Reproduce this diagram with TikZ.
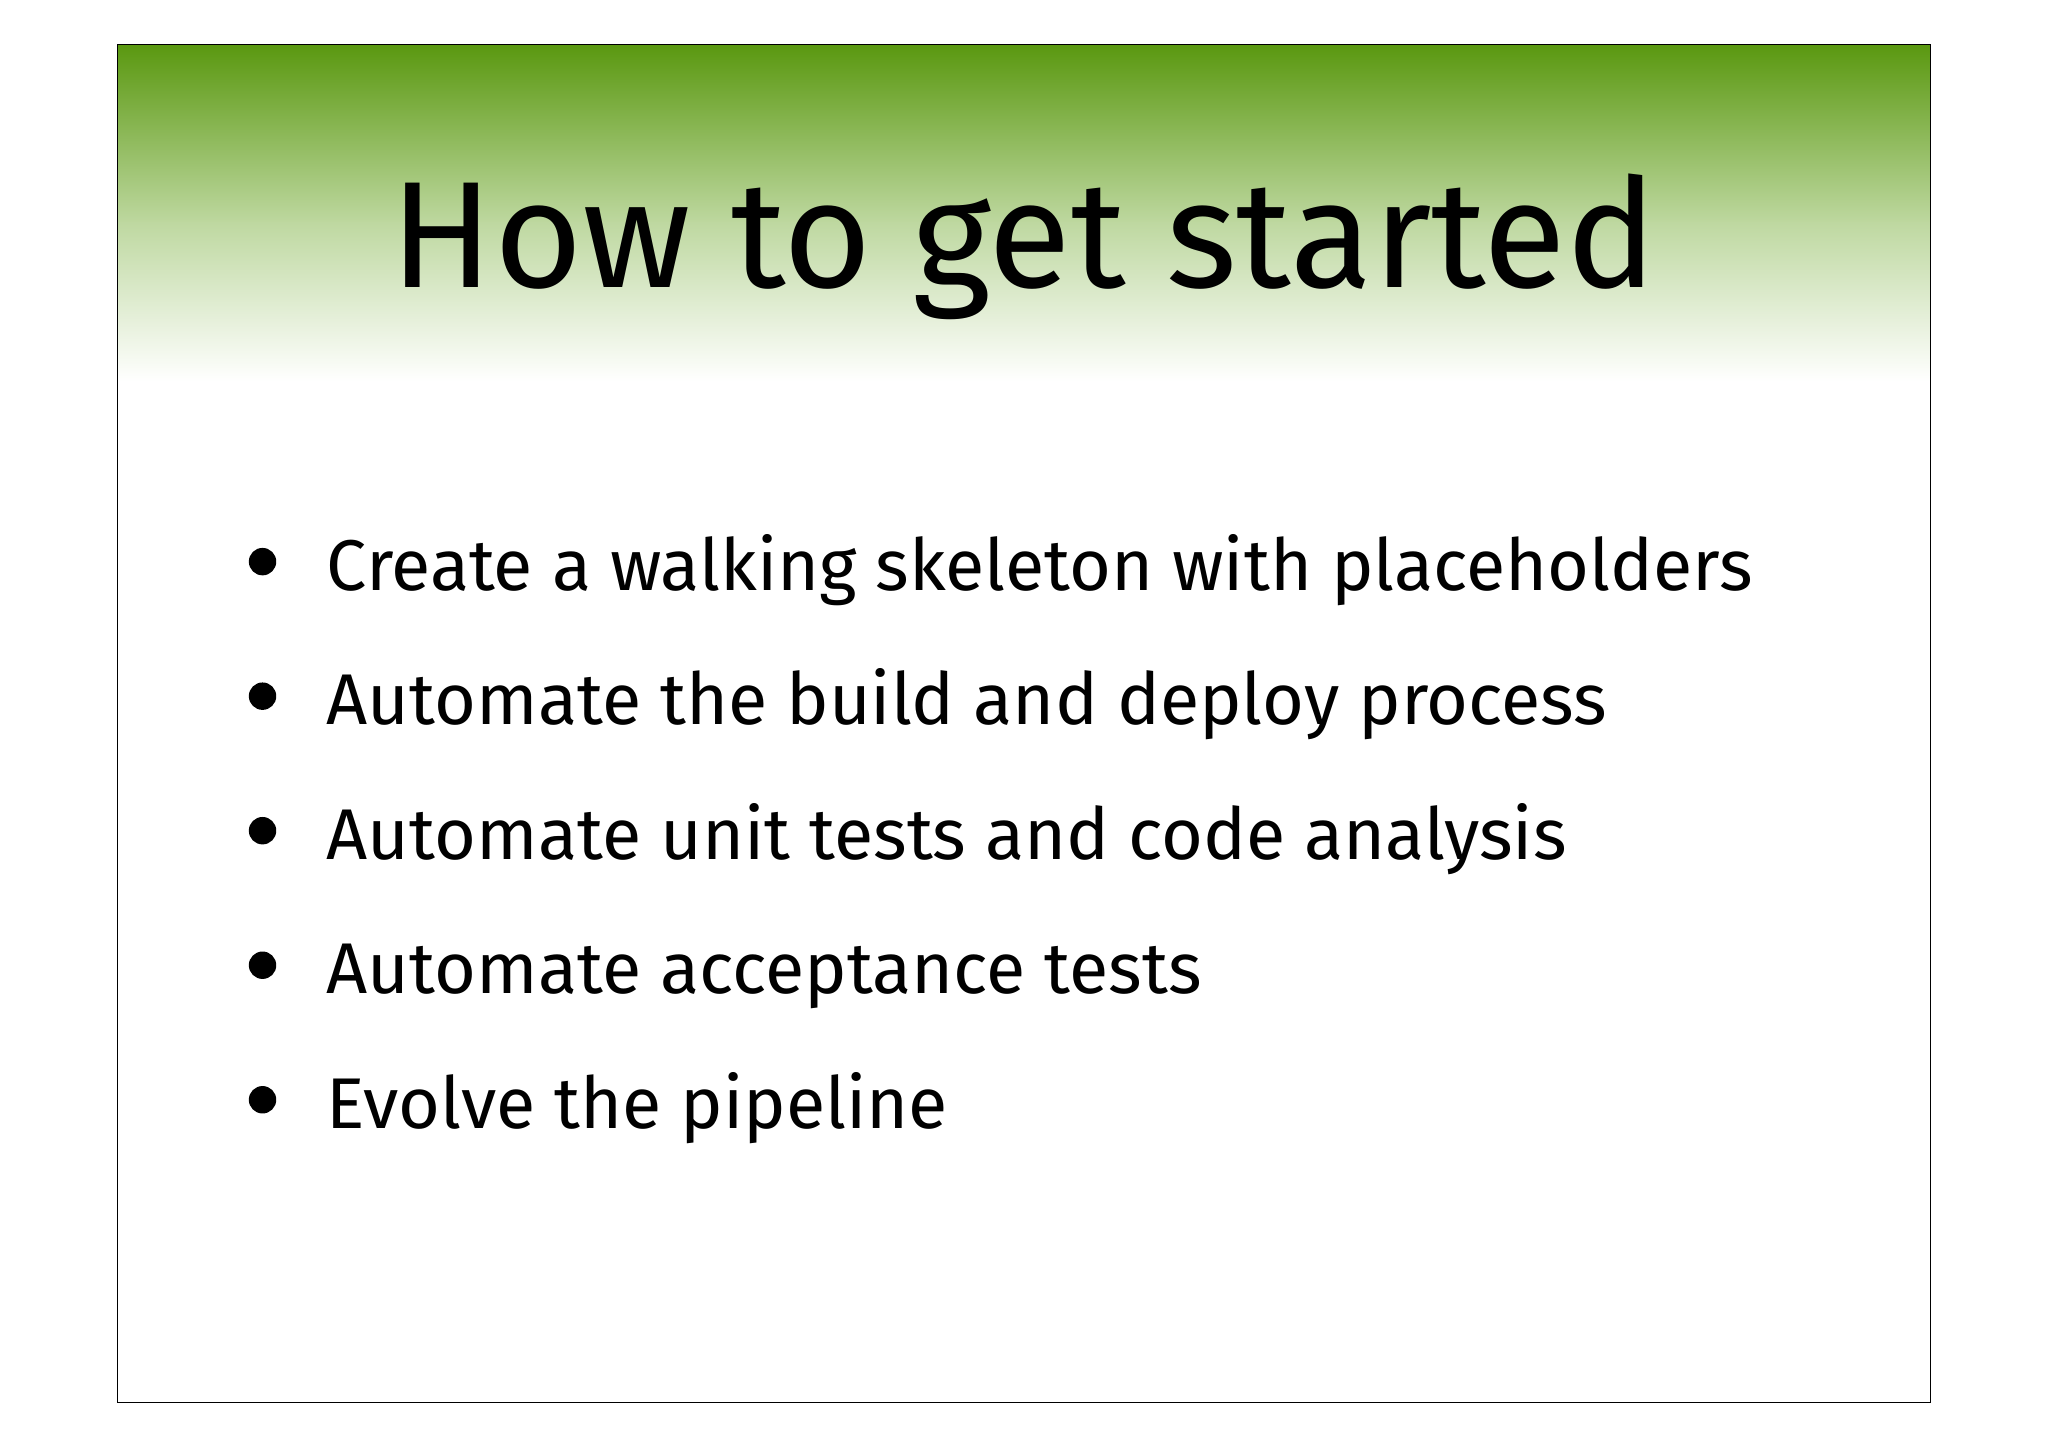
\documentclass[tikz,border=0pt]{standalone}
\usepackage{fontspec}
\setmainfont{Fira Sans}
\definecolor{gtop}{RGB}{90,152,16}
\definecolor{gmid}{RGB}{190,216,160}
\begin{document}
\begin{tikzpicture}[x=1pt,y=-1pt,
  bul/.style={anchor=base west,font=\fontsize{55}{66}\selectfont,inner sep=0pt},
  dot/.style={circle,fill=black,inner sep=0pt,minimum size=21pt}]
\useasboundingbox (0,0) rectangle (1568,1107);
\fill[white] (0,0) rectangle (1568,1107);
\shade[top color=gtop,bottom color=gmid] (90,34) rectangle (1478,171);
\shade[top color=gmid,bottom color=white] (90,170) rectangle (1478,292);
\draw[line width=1pt] (90,34) rectangle (1478,1074);
\node[anchor=base,font=\fontsize{116}{130}\selectfont,inner sep=0pt] (title) at (784,220) {How to get started};
\foreach \y/\t/\n in {452/Create a walking skeleton with placeholders/a,555/Automate the build and deploy process/b,658/Automate unit tests and code analysis/c,761/Automate acceptance tests/d,864/Evolve the pipeline/e}{
  \node[dot] (d\n) at (201,\y-22) {};
  \node[bul] (t\n) at (250,\y) {\t};
}
\end{tikzpicture}
\end{document}
